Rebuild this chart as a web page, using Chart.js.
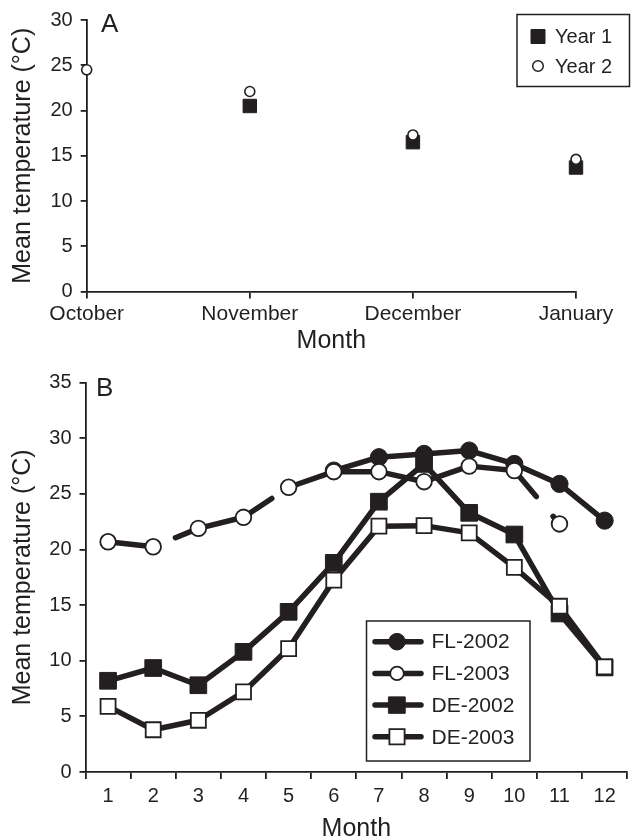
<!DOCTYPE html>
<html>
<head>
<meta charset="utf-8">
<script src="https://cdn.jsdelivr.net/npm/chart.js@4.4.0/dist/chart.umd.min.js"></script>
<style>
  html, body { margin: 0; padding: 0; background: #fff; overflow: hidden; }
  #wrap { position: relative; width: 632px; height: 838px; overflow: hidden; }
  #chartA { position: absolute; left: 0; top: 0; }
  #chartB { position: absolute; left: 0; top: 360px; }
</style>
</head>
<body>
<div id="wrap">
  <canvas id="chartA" width="640" height="356"></canvas>
  <canvas id="chartB" width="640" height="484"></canvas>
</div>
<script>
const INK = '#231f20';
const FONT = "'Liberation Sans', Arial, Helvetica, sans-serif";

// A: mean temperature, October to January
const monthsA = ['October', 'November', 'December', 'January'];
const year1 = [null, 20.5, 16.5, 13.7];
const year2 = [24.5, 22.1, 17.3, 14.6];

// B: monthly means for each site and year
const monthsB = ['1', '2', '3', '4', '5', '6', '7', '8', '9', '10', '11', '12'];
const fl2002 = [null, null, null, null, null, 27.1, 28.3, 28.6, 28.9, 27.7, 25.9, 22.6];
const fl2003 = [20.7, 20.25, 21.9, 22.9, 25.6, 27.0, 27.0, 26.1, 27.5, 27.1, 22.3, null];
const de2002 = [8.2, 9.35, 7.8, 10.8, 14.4, 18.8, 24.3, 27.7, 23.3, 21.35, 14.25, 9.4];
const de2003 = [5.9, 3.8, 4.65, 7.2, 11.1, 17.25, 22.1, 22.15, 21.5, 18.4, 14.9, 9.45];

// broken stretches of the FL-2003 line, keyed by the segment's first point
const fl2003Breaks = { 1: [4, 20, 200], 3: [34, 100], 9: [34, 26, 100] };

Chart.defaults.font.family = FONT;
Chart.defaults.color = INK;

function drawMarker(ctx, style, r, x, y, fill, bw) {
  ctx.beginPath();
  if (style === 'rect') ctx.rect(x - r, y - r, 2 * r, 2 * r);
  else ctx.arc(x, y, r, 0, Math.PI * 2);
  ctx.fillStyle = fill;
  ctx.fill();
  ctx.lineWidth = bw;
  ctx.strokeStyle = INK;
  ctx.stroke();
}

// panel letter in the top left corner
const panelLetter = {
  id: 'panelLetter',
  afterDraw(chart, args, opts) {
    const ctx = chart.ctx;
    ctx.save();
    ctx.fillStyle = INK;
    ctx.font = '26px ' + FONT;
    ctx.textBaseline = 'alphabetic';
    ctx.fillText(opts.text, opts.x, opts.y);
    ctx.restore();
  }
};

// framed legend sitting inside the plot
const boxLegend = {
  id: 'boxLegend',
  afterDatasetsDraw(chart, args, opts) {
    const ctx = chart.ctx;
    const b = opts.box;
    ctx.save();
    ctx.fillStyle = '#fff';
    ctx.fillRect(b.x, b.y, b.w, b.h);
    ctx.lineWidth = 1.5;
    ctx.strokeStyle = INK;
    ctx.strokeRect(b.x, b.y, b.w, b.h);
    chart.data.datasets.forEach((ds, i) => {
      const y = opts.firstRow + i * opts.rowGap;
      if (opts.lineX) {
        ctx.beginPath();
        ctx.moveTo(opts.lineX[0], y);
        ctx.lineTo(opts.lineX[1], y);
        ctx.lineWidth = ds.borderWidth;
        ctx.lineCap = 'round';
        ctx.strokeStyle = INK;
        ctx.stroke();
      }
      const m = opts.markers[i];
      drawMarker(ctx, ds.pointStyle, m.r, opts.markerX, y, ds.pointBackgroundColor, m.bw);
      ctx.fillStyle = INK;
      ctx.font = opts.fontSize + 'px ' + FONT;
      ctx.textBaseline = 'middle';
      ctx.textAlign = 'left';
      ctx.fillText(ds.label, opts.textX, y + 1);
    });
    ctx.restore();
  }
};

function axisX(title, tickSize, tickPad, height, offset) {
  return {
    type: 'category',
    offset: offset,
    border: { display: true, color: INK, width: 1.8 },
    grid: { display: true, offset: offset, drawOnChartArea: false, drawTicks: true, tickLength: 7, color: INK, lineWidth: 1.8 },
    ticks: { color: INK, font: { size: tickSize }, padding: tickPad, maxRotation: 0, autoSkip: false },
    title: { display: true, text: title, color: INK, font: { size: 25 }, padding: { top: 0, bottom: 0 } },
    afterFit: s => { s.height = height; }
  };
}

function axisY(max, width) {
  return {
    min: 0,
    max: max,
    border: { display: true, color: INK, width: 1.8 },
    grid: { display: true, drawOnChartArea: false, drawTicks: true, tickLength: 6, color: INK, lineWidth: 1.8 },
    ticks: { stepSize: 5, color: INK, font: { size: 20 }, padding: 8 },
    title: { display: true, text: 'Mean temperature (°C)', color: INK, font: { size: 25 }, padding: { top: 8, bottom: 0 } },
    afterFit: s => { s.width = width; }
  };
}

new Chart(document.getElementById('chartA'), {
  type: 'line',
  data: {
    labels: monthsA,
    datasets: [{
      label: 'Year 1',
      data: year1,
      order: 1,
      showLine: false,
      clip: false,
      pointStyle: 'rect',
      pointRadius: 9.5,
      pointBorderWidth: 1,
      pointBackgroundColor: INK,
      pointBorderColor: INK
    }, {
      label: 'Year 2',
      data: year2,
      order: 0,
      showLine: false,
      clip: false,
      pointStyle: 'circle',
      pointRadius: 5,
      pointBorderWidth: 1.6,
      pointBackgroundColor: '#fff',
      pointBorderColor: INK
    }]
  },
  options: {
    responsive: false,
    animation: false,
    layout: { padding: { top: 19, right: 64, bottom: 0, left: 0 } },
    scales: {
      x: axisX('Month', 21, 3, 64.5, false),
      y: axisY(30, 86.7)
    },
    plugins: {
      legend: { display: false },
      tooltip: { enabled: false },
      panelLetter: { text: 'A', x: 101, y: 32 },
      boxLegend: {
        box: { x: 517, y: 14.5, w: 112.5, h: 72 },
        firstRow: 36.5, rowGap: 29.5,
        markerX: 538, textX: 555, fontSize: 20,
        markers: [{ r: 7, bw: 1 }, { r: 5.3, bw: 1.5 }]
      }
    }
  },
  plugins: [panelLetter, boxLegend]
});

function siteSet(label, data, style, filled, radius, order, extra) {
  return Object.assign({
    label: label,
    data: data,
    order: order,
    clip: false,
    borderColor: INK,
    borderWidth: 5.5,
    borderCapStyle: 'round',
    borderJoinStyle: 'round',
    tension: 0,
    pointStyle: style,
    pointRadius: radius,
    pointBorderWidth: filled ? 1 : 1.8,
    pointBackgroundColor: filled ? INK : '#fff',
    pointBorderColor: INK
  }, extra || {});
}

new Chart(document.getElementById('chartB'), {
  type: 'line',
  data: {
    labels: monthsB,
    datasets: [
      siteSet('FL-2002', fl2002, 'circle', true, 8.6, 2),
      siteSet('FL-2003', fl2003, 'circle', false, 7.8, 0, {
        segment: { borderDash: ctx => fl2003Breaks[ctx.p0DataIndex] }
      }),
      siteSet('DE-2002', de2002, 'rect', true, 11.8, 3),
      siteSet('DE-2003', de2003, 'rect', false, 10.6, 1)
    ]
  },
  options: {
    responsive: false,
    animation: false,
    layout: { padding: { top: 22.7, right: 6.3, bottom: 0, left: 0 } },
    scales: {
      x: axisX('Month', 20, 5, 72, true),
      y: axisY(35, 85.5)
    },
    plugins: {
      legend: { display: false },
      tooltip: { enabled: false },
      panelLetter: { text: 'B', x: 96, y: 36 },
      boxLegend: {
        box: { x: 366.5, y: 261, w: 163.5, h: 140 },
        firstRow: 281.7, rowGap: 31.7,
        lineX: [375, 421], markerX: 397, textX: 431.5, fontSize: 21,
        markers: [{ r: 8.3, bw: 1 }, { r: 6.8, bw: 1.8 }, { r: 8.2, bw: 1 }, { r: 7.6, bw: 1.8 }]
      }
    }
  },
  plugins: [panelLetter, boxLegend]
});
</script>
</body>
</html>
